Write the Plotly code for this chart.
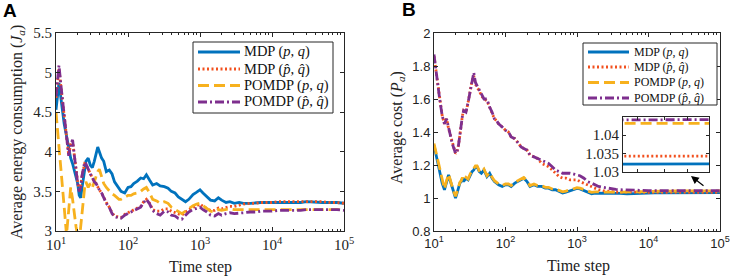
import math
import plotly.graph_objects as go

# ---------------- data ----------------
t = [10, 11, 12, 13, 14, 15, 16, 17, 18, 19, 20, 21, 22, 23, 24, 25, 26, 28, 30, 32,
     34, 36, 38, 40, 43, 46, 50, 55, 60, 65, 70, 75, 80, 90, 100, 110, 120, 135, 150, 165,
     180, 200, 220, 250, 280, 320, 360, 400, 450, 500, 560, 630, 700, 800, 900, 1000, 1100, 1250, 1400, 1600,
     1800, 2000, 2300, 2600, 3000, 3500, 4000, 5000, 6000, 7000, 8000, 10000, 12000, 15000, 20000, 25000, 30000, 40000, 50000, 65000,
     80000, 100000]

# Panel A: average energy consumption J_a
a_mdp = [4.53, 4.87, 4.6, 4.35, 4.2, 4.05, 3.92, 3.85, 3.75, 3.68, 3.6, 3.45, 3.42, 3.55, 3.7, 3.77, 3.88, 3.92, 3.83, 3.8,
         3.88, 3.98, 4.06, 4.0, 3.92, 3.88, 3.75, 3.77, 3.72, 3.62, 3.58, 3.53, 3.5, 3.48, 3.55, 3.56, 3.6, 3.63, 3.67, 3.66,
         3.71, 3.64, 3.58, 3.6, 3.57, 3.56, 3.54, 3.5, 3.48, 3.43, 3.4, 3.37, 3.4, 3.46, 3.49, 3.52, 3.48, 3.43, 3.39, 3.38,
         3.42, 3.39, 3.36, 3.37, 3.35, 3.36, 3.35, 3.35, 3.36, 3.36, 3.36, 3.36, 3.36, 3.36, 3.36, 3.36, 3.37, 3.36, 3.36, 3.36,
         3.36, 3.35]
a_mdp_hat = [4.68, 5.05, 4.73, 4.44, 4.2, 3.96, 4.1, 4.14, 3.95, 3.76, 3.62, 3.52, 3.56, 3.7, 3.8, 3.85, 3.84, 3.78, 3.72, 3.68,
             3.62, 3.6, 3.55, 3.52, 3.48, 3.42, 3.36, 3.3, 3.23, 3.19, 3.18, 3.17, 3.17, 3.21, 3.23, 3.25, 3.26, 3.28, 3.31, 3.37,
             3.4, 3.35, 3.27, 3.25, 3.25, 3.28, 3.28, 3.25, 3.23, 3.21, 3.2, 3.24, 3.27, 3.3, 3.32, 3.34, 3.31, 3.28, 3.26, 3.26,
             3.29, 3.28, 3.3, 3.31, 3.31, 3.33, 3.34, 3.35, 3.35, 3.36, 3.36, 3.36, 3.37, 3.37, 3.37, 3.37, 3.37, 3.37, 3.37, 3.36,
             3.36, 3.35]
a_pomdp = [4.5, 4.1, 3.7, 3.3, 2.95, 3.25, 3.55, 3.4, 3.2, 3.05, 2.95, 2.85, 3.05, 3.25, 3.45, 3.55, 3.62, 3.55, 3.6, 3.55,
           3.62, 3.7, 3.75, 3.78, 3.68, 3.6, 3.55, 3.5, 3.47, 3.45, 3.42, 3.4, 3.4, 3.43, 3.45, 3.45, 3.47, 3.48, 3.5, 3.53,
           3.55, 3.48, 3.4, 3.38, 3.35, 3.37, 3.35, 3.3, 3.27, 3.24, 3.22, 3.25, 3.28, 3.32, 3.34, 3.35, 3.32, 3.28, 3.25, 3.24,
           3.27, 3.26, 3.27, 3.28, 3.27, 3.27, 3.27, 3.27, 3.27, 3.27, 3.27, 3.27, 3.27, 3.27, 3.27, 3.27, 3.27, 3.27, 3.27, 3.27,
           3.27, 3.27]
a_pomdp_hat = [4.7, 5.09, 4.75, 4.45, 4.2, 3.95, 4.1, 4.15, 3.95, 3.75, 3.6, 3.5, 3.55, 3.7, 3.82, 3.87, 3.85, 3.78, 3.72, 3.68,
               3.62, 3.6, 3.55, 3.52, 3.48, 3.42, 3.35, 3.3, 3.22, 3.18, 3.17, 3.16, 3.16, 3.2, 3.22, 3.24, 3.25, 3.27, 3.3, 3.36,
               3.4, 3.34, 3.26, 3.22, 3.2, 3.25, 3.24, 3.2, 3.19, 3.16, 3.15, 3.2, 3.24, 3.27, 3.29, 3.3, 3.27, 3.24, 3.2, 3.19,
               3.22, 3.2, 3.22, 3.23, 3.22, 3.23, 3.23, 3.24, 3.24, 3.25, 3.25, 3.25, 3.26, 3.26, 3.26, 3.26, 3.27, 3.27, 3.27, 3.27,
               3.27, 3.26]

# Panel B: average cost P_a
b_mdp = [1.32, 1.24, 1.16, 1.09, 1.05, 1.1, 1.14, 1.1, 1.06, 1.03, 1.0, 1.03, 1.06, 1.09, 1.1, 1.12, 1.1, 1.12, 1.11, 1.14,
         1.16, 1.17, 1.19, 1.19, 1.16, 1.15, 1.17, 1.13, 1.15, 1.12, 1.1, 1.09, 1.08, 1.07, 1.08, 1.08, 1.07, 1.09, 1.1, 1.11,
         1.12, 1.1, 1.07, 1.08, 1.07, 1.07, 1.06, 1.06, 1.05, 1.05, 1.04, 1.03, 1.035, 1.045, 1.05, 1.058, 1.055, 1.045, 1.035, 1.025,
         1.03, 1.03, 1.028, 1.03, 1.028, 1.027, 1.028, 1.025, 1.027, 1.028, 1.03, 1.03, 1.031, 1.0315, 1.032, 1.032, 1.032, 1.0322, 1.0321, 1.0321,
         1.0321, 1.0322]
b_mdp_hat = [1.86, 1.72, 1.6, 1.5, 1.45, 1.48, 1.42, 1.38, 1.33, 1.3, 1.27, 1.28, 1.32, 1.38, 1.45, 1.5, 1.53, 1.52, 1.58, 1.65,
             1.71, 1.74, 1.69, 1.67, 1.65, 1.62, 1.6, 1.59, 1.55, 1.52, 1.48, 1.47, 1.45, 1.43, 1.41, 1.4, 1.37, 1.36, 1.33, 1.31,
             1.3, 1.29, 1.26, 1.25, 1.24, 1.21, 1.2, 1.19, 1.17, 1.15, 1.13, 1.12, 1.12, 1.11, 1.11, 1.11, 1.1, 1.09, 1.08, 1.07,
             1.06, 1.05, 1.045, 1.04, 1.038, 1.036, 1.035, 1.035, 1.035, 1.035, 1.035, 1.0345, 1.0345, 1.0344, 1.0344, 1.0343, 1.0343, 1.0343, 1.0343, 1.0343,
             1.0344, 1.0343]
b_pomdp = [1.33, 1.25, 1.17, 1.1, 1.055, 1.105, 1.145, 1.105, 1.065, 1.035, 1.01, 1.035, 1.065, 1.095, 1.105, 1.125, 1.105, 1.125, 1.115, 1.145,
           1.165, 1.175, 1.195, 1.195, 1.165, 1.155, 1.175, 1.135, 1.155, 1.125, 1.105, 1.095, 1.085, 1.075, 1.085, 1.085, 1.075, 1.095, 1.105, 1.115,
           1.125, 1.105, 1.075, 1.085, 1.075, 1.075, 1.065, 1.065, 1.055, 1.055, 1.045, 1.037, 1.042, 1.05, 1.055, 1.062, 1.06, 1.05, 1.042, 1.034,
           1.037, 1.036, 1.035, 1.036, 1.035, 1.035, 1.036, 1.035, 1.037, 1.038, 1.039, 1.04, 1.041, 1.042, 1.042, 1.0425, 1.043, 1.043, 1.0432, 1.0432,
           1.0431, 1.0432]
b_pomdp_hat = [1.87, 1.72, 1.6, 1.5, 1.45, 1.48, 1.42, 1.38, 1.33, 1.3, 1.27, 1.28, 1.32, 1.38, 1.45, 1.5, 1.53, 1.52, 1.58, 1.65,
               1.72, 1.76, 1.7, 1.68, 1.66, 1.63, 1.6, 1.6, 1.55, 1.52, 1.48, 1.47, 1.45, 1.43, 1.41, 1.4, 1.37, 1.36, 1.33, 1.31,
               1.3, 1.29, 1.26, 1.25, 1.24, 1.23, 1.22, 1.21, 1.19, 1.17, 1.16, 1.15, 1.15, 1.15, 1.145, 1.14, 1.135, 1.12, 1.1, 1.09,
               1.08, 1.07, 1.065, 1.06, 1.055, 1.052, 1.05, 1.048, 1.047, 1.046, 1.046, 1.045, 1.045, 1.045, 1.0443, 1.0442, 1.0442, 1.0441, 1.0441, 1.0441,
               1.0442, 1.0442]

series_names = ["MDP (<i>p</i>, <i>q</i>)", "MDP (<i>p̂</i>, <i>q̂</i>)",
                "POMDP (<i>p</i>, <i>q</i>)", "POMDP (<i>p̂</i>, <i>q̂</i>)"]
a_tickvals = [3, 3.5, 4, 4.5, 5, 5.5]
b_tickvals = [0.8, 1, 1.2, 1.4, 1.6, 1.8, 2]
inset_tickvals = [1.03, 1.035, 1.04]
x_major = [10, 100, 1000, 10000, 100000]
x_major_text = ["10<sup>1</sup>", "10<sup>2</sup>", "10<sup>3</sup>", "10<sup>4</sup>", "10<sup>5</sup>"]

# ---------------- style ----------------
colors = ["#0072BD", "#F2501E", "#F7B11E", "#7E2F8E"]
dashes = ["solid", "2px,2.5px", "11px,5px", "9px,3px,2px,3px"]
W = 2.8
SERIF = "Liberation Serif, Times New Roman, serif"
SANS = "Liberation Sans, Arial, sans-serif"
AX = "#262626"
PW, PH = 733, 278

def px(xp):
    return xp / PW

def py(yp):
    return 1 - yp / PH

fig = go.Figure()

for i, y in enumerate([a_mdp, a_mdp_hat, a_pomdp, a_pomdp_hat]):
    fig.add_trace(go.Scatter(x=t, y=y, mode="lines", name=series_names[i], showlegend=False,
                             line=dict(color=colors[i], width=W, dash=dashes[i]),
                             xaxis="x", yaxis="y"))
for i, y in enumerate([b_mdp, b_mdp_hat, b_pomdp, b_pomdp_hat]):
    fig.add_trace(go.Scatter(x=t, y=y, mode="lines", name=series_names[i], showlegend=False,
                             line=dict(color=colors[i], width=W, dash=dashes[i]),
                             xaxis="x2", yaxis="y2"))
for i, y in enumerate([b_mdp, b_mdp_hat, b_pomdp, b_pomdp_hat]):
    fig.add_trace(go.Scatter(x=t, y=y, mode="lines", name=series_names[i], showlegend=False,
                             line=dict(color=colors[i], width=W, dash=dashes[i]),
                             xaxis="x3", yaxis="y3"))

minor_vals = [m * 10 ** e for e in range(1, 5) for m in range(2, 10)]

def xax(domain, anchor, font):
    return dict(type="log", range=[1, 5], domain=domain, anchor=anchor, automargin=False,
                showline=True, linecolor=AX, linewidth=1, mirror="allticks",
                ticks="inside", ticklen=4, tickcolor=AX,
                tickmode="array", tickvals=x_major, ticktext=x_major_text,
                tickfont=font, showgrid=False, zeroline=False,
                minor=dict(tickmode="array", tickvals=minor_vals, ticks="inside",
                           ticklen=2, tickcolor=AX, showgrid=False))

def yax(domain, anchor, rng, vals, font):
    return dict(range=rng, domain=domain, anchor=anchor, automargin=False,
                showline=True, linecolor=AX, linewidth=1, mirror="allticks",
                ticks="inside", ticklen=4, tickcolor=AX,
                tickmode="array", tickvals=vals, tickfont=font,
                showgrid=False, zeroline=False)

serif_tick = dict(family=SERIF, size=15, color="#222")
sans_tick = dict(family=SANS, size=13, color="#222")

ydom = [py(231), py(33)]
fig.update_layout(
    width=PW, height=PH,
    margin=dict(l=0, r=0, t=0, b=0, autoexpand=False),
    paper_bgcolor="white", plot_bgcolor="white",
    showlegend=False,
    xaxis=xax([px(56), px(344)], "y", serif_tick),
    yaxis=yax(ydom, "x", [3, 5.5], a_tickvals, serif_tick),
    xaxis2=xax([px(434), px(720)], "y2", sans_tick),
    yaxis2=yax(ydom, "x2", [0.8, 2], b_tickvals, sans_tick),
    xaxis3=dict(type="log", range=[math.log10(65000), 5], domain=[px(623), px(709)], anchor="y3",
                automargin=False,
                showline=True, linecolor=AX, linewidth=1, mirror="allticks",
                ticks="inside", ticklen=3, tickcolor=AX, showticklabels=False,
                tickmode="array", tickvals=[70000, 80000, 90000],
                showgrid=False, zeroline=False),
    yaxis3=dict(range=[1.03, 1.0449], domain=[py(172), py(117)], anchor="x3",
                automargin=False,
                showline=True, linecolor=AX, linewidth=1, mirror="allticks",
                ticks="inside", ticklen=3, tickcolor=AX,
                tickmode="array", tickvals=inset_tickvals, ticktext=["1.03", "1.035", "1.04"],
                tickfont=serif_tick, showgrid=False, zeroline=False),
)

def text_ann(text, xp, yp, size, family=SERIF, angle=0, xanchor="center", yanchor="middle", color="#222"):
    return dict(text=text, x=px(xp), y=py(yp), xref="paper", yref="paper",
                xanchor=xanchor, yanchor=yanchor, textangle=angle, showarrow=False,
                font=dict(family=family, size=size, color=color))

ann = [
    text_ann("<b>A</b>", 10, 11, 19, family=SANS, color="black"),
    text_ann("<b>B</b>", 409, 9, 19, family=SANS, color="black"),
    text_ann("Average energy consumption (<i>J<sub>a</sub></i>)", 18, 132, 16, angle=-90),
    text_ann("Average cost (<i>P<sub>a</sub></i>)", 397, 128, 16, angle=-90),
    text_ann("Time step", 200, 267, 16),
    text_ann("Time step", 578, 266, 16),
    dict(text="", x=px(691), y=py(176), xref="paper", yref="paper", showarrow=True,
         ax=14, ay=11, arrowhead=2, arrowsize=1.3, arrowwidth=1.2, arrowcolor="black"),
]

shapes = [dict(type="rect", xref="x2", yref="y2",
               x0=math.log10(65000), x1=4.99, y0=1.0, y1=1.08,
               line=dict(color=AX, width=1))]

# ---- legends drawn as boxes + line samples + labels ----
legend_specs = [
    dict(box=(193, 42, 333, 113), rows=[52, 69, 85.5, 102], line=(198, 240), text_x=242, size=14.5),
    dict(box=(583, 43, 717, 105), rows=[52, 67, 82.5, 98], line=(588, 629), text_x=632, size=12),
]
for spec in legend_specs:
    x0, y0, x1, y1 = spec["box"]
    shapes.append(dict(type="rect", xref="paper", yref="paper",
                       x0=px(x0), x1=px(x1), y0=py(y1), y1=py(y0),
                       fillcolor="white", line=dict(color=AX, width=1), layer="above"))
    for i, r in enumerate(spec["rows"]):
        shapes.append(dict(type="line", xref="paper", yref="paper",
                           x0=px(spec["line"][0]), x1=px(spec["line"][1]), y0=py(r), y1=py(r),
                           line=dict(color=colors[i], width=W, dash=dashes[i]), layer="above"))
        ann.append(text_ann(series_names[i], spec["text_x"], r, spec["size"], xanchor="left", color="#111"))

fig.update_layout(annotations=ann, shapes=shapes)

fig.write_html("out.html", config={"displayModeBar": False},
               post_script="document.body.style.margin='0px';document.body.style.overflow='hidden';")
